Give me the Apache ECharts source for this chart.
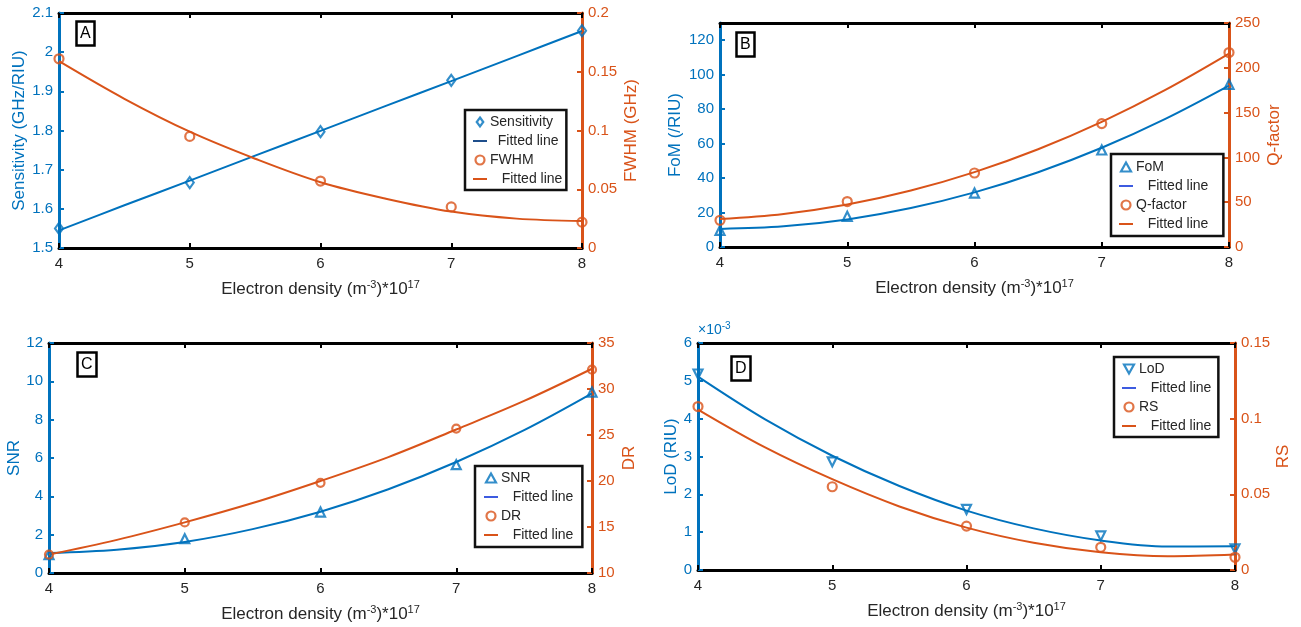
<!DOCTYPE html>
<html>
<head>
<meta charset="utf-8">
<title>Electron density sensing metrics</title>
<script src="https://cdn.jsdelivr.net/npm/echarts@6/dist/echarts.min.js"></script>
<style>
  html, body { margin: 0; padding: 0; background: #fff; }
  #chart { width: 1301px; height: 627px; }
</style>
</head>
<body>
<div id="chart"></div>
<script>
// ---- data ---------------------------------------------------------------
const density = [4, 5, 6, 7, 8];                       // electron density, x 10^17 m^-3
const fitDensity = [4, 4.5, 5, 5.5, 6, 6.5, 7, 7.5, 8]; // sample points along the fitted curves
const xTicks = [4, 5, 6, 7, 8];

// (A) sensitivity and FWHM
const sensitivity = [1.550, 1.667, 1.797, 1.928, 2.055];
const sensitivityFit = [1.545, 1.609, 1.672, 1.736, 1.799, 1.863, 1.926, 1.990, 2.054];
const fwhm = [0.161, 0.095, 0.057, 0.035, 0.022];
const fwhmFit = [0.159, 0.127, 0.099, 0.076, 0.056, 0.042, 0.031, 0.025, 0.023];

// (B) figure of merit and Q-factor
const fom = [9.7, 17.8, 31.3, 56.3, 94.4];
const fomFit = [10.5, 12.0, 16.0, 22.6, 31.7, 43.4, 57.6, 74.4, 93.7];
const qFactor = [29.8, 50.7, 82.6, 137.7, 217.0];
const qFactorFit = [31.3, 36.9, 47.4, 63.0, 83.6, 109.1, 139.7, 175.3, 215.8];

// (C) signal-to-noise ratio and dynamic range
const snr = [0.96, 1.79, 3.18, 5.65, 9.44];
const snrFit = [1.04, 1.21, 1.62, 2.29, 3.20, 4.37, 5.79, 7.45, 9.37];
const dr = [12.0, 15.5, 19.8, 25.7, 32.1];
const drFit = [12.0, 13.6, 15.5, 17.6, 20.0, 22.6, 25.6, 28.7, 32.2];

// (D) limit of detection and resolution
const lod = [5.18e-3, 2.86e-3, 1.60e-3, 0.90e-3, 0.56e-3];
const lodFit = [5.11e-3, 3.98e-3, 3.02e-3, 2.22e-3, 1.57e-3, 1.10e-3, 0.78e-3, 0.62e-3, 0.63e-3];
const rs = [0.108, 0.055, 0.029, 0.015, 0.0084];
const rsFit = [0.106, 0.081, 0.060, 0.042, 0.028, 0.018, 0.0117, 0.0091, 0.0102];

// ---- styling ------------------------------------------------------------
const BLUE = '#0072BD';
const ORANGE = '#D95319';
const INK = '#262626';
const FONT = '"Liberation Sans", Arial, Helvetica, sans-serif';

// legend glyphs (scaled into the legend item box, aspect kept)
const LEGEND_ICON = {
  line: 'path://M0,0h14v2H0z',
  triangle: 'path://M5,0L10,9H0z',
  triangleDown: 'path://M0,0H10L5,9z',
  diamond: 'path://M4,0L8,5.5L4,11L0,5.5z',
  circle: 'circle'
};

const pair = (xs, ys) => xs.map((x, i) => [x, ys[i]]);

const xName = '{a|Electron density (m}{s|-3}{a|)*10}{s|17}';
const xNameStyle = {
  color: INK, fontFamily: FONT,
  rich: {
    a: { fontSize: 17, color: INK, fontFamily: FONT },
    s: { fontSize: 11, color: INK, fontFamily: FONT, padding: [0, 0, 9, 0] }
  }
};

// legend entries use unique keys; the text shown comes from this table
const legendText = {
  sensA: 'Sensitivity', fitA1: '  Fitted line', fwhmA: 'FWHM', fitA2: '   Fitted line',
  fomB: 'FoM', fitB1: '   Fitted line', qB: 'Q-factor', fitB2: '   Fitted line',
  snrC: 'SNR', fitC1: '   Fitted line', drC: 'DR', fitC2: '   Fitted line',
  lodD: 'LoD', fitD1: '   Fitted line', rsD: 'RS', fitD2: '   Fitted line'
};

const panels = [
  {
    grid: { left: 59, top: 13, width: 523, height: 235 },
    letter: { text: 'A', left: 76, top: 21 },
    left: { min: 1.5, max: 2.1, interval: 0.1, name: 'Sensitivity (GHz/RIU)', gap: 30 },
    right: { min: 0, max: 0.2, interval: 0.05, name: 'FWHM (GHz)', gap: 41 },
    s1: { key: 'sensA', fit: 'fitA1', data: sensitivity, fitData: sensitivityFit, symbol: 'diamond', size: [8, 11], rotate: 0, icon: 'diamond' },
    s2: { key: 'fwhmA', fit: 'fitA2', data: fwhm, fitData: fwhmFit, symbol: 'circle', size: 9, rotate: 0, icon: 'circle' },
    legend: { left: 465, top: 110, padding: [4, 4, 3, 8] },
    fitLegendBlue: '#1F4E8C'
  },
  {
    grid: { left: 720, top: 23, width: 509, height: 224 },
    letter: { text: 'B', left: 736, top: 32 },
    left: { min: 0, max: 130, interval: 20, name: 'FoM (/RIU)', gap: 36, hideMax: true },
    right: { min: 0, max: 250, interval: 50, name: 'Q-factor', gap: 37 },
    s1: { key: 'fomB', fit: 'fitB1', data: fom, fitData: fomFit, symbol: 'triangle', size: 9, rotate: 0, icon: 'triangle' },
    s2: { key: 'qB', fit: 'fitB2', data: qFactor, fitData: qFactorFit, symbol: 'circle', size: 9, rotate: 0, icon: 'circle' },
    legend: { left: 1111, top: 154, padding: [5, 15, 4, 8] },
    fitLegendBlue: '#3D5BE0'
  },
  {
    grid: { left: 49, top: 343, width: 543, height: 230 },
    letter: { text: 'C', left: 77, top: 352 },
    left: { min: 0, max: 12, interval: 2, name: 'SNR', gap: 24 },
    right: { min: 10, max: 35, interval: 5, name: 'DR', gap: 29 },
    s1: { key: 'snrC', fit: 'fitC1', data: snr, fitData: snrFit, symbol: 'triangle', size: 9, rotate: 0, icon: 'triangle' },
    s2: { key: 'drC', fit: 'fitC2', data: dr, fitData: drFit, symbol: 'circle', size: 8, rotate: 0, icon: 'circle' },
    legend: { left: 475, top: 466, padding: [4, 9, 4, 9] },
    fitLegendBlue: '#3D5BE0'
  },
  {
    grid: { left: 698, top: 343, width: 537, height: 227 },
    letter: { text: 'D', left: 731, top: 356 },
    left: { min: 0, max: 0.006, interval: 0.001, name: 'LoD (RIU)', gap: 15, scale1000: true },
    right: { min: 0, max: 0.15, interval: 0.05, name: 'RS', gap: 40 },
    s1: { key: 'lodD', fit: 'fitD1', data: lod, fitData: lodFit, symbol: 'triangle', size: 9, rotate: 180, icon: 'triangleDown' },
    s2: { key: 'rsD', fit: 'fitD2', data: rs, fitData: rsFit, symbol: 'circle', size: 9, rotate: 0, icon: 'circle' },
    legend: { left: 1114, top: 357, padding: [4, 7, 3, 8] },
    fitLegendBlue: '#3D5BE0'
  }
];

const option = {
  animation: false,
  backgroundColor: '#fff',
  textStyle: { fontFamily: FONT },
  grid: [], xAxis: [], yAxis: [], series: [], legend: [], title: []
};

function yAxisFor(gi, cfg, side, color) {
  return {
    gridIndex: gi, type: 'value', position: side,
    min: cfg.min, max: cfg.max, interval: cfg.interval,
    axisLine: { show: true, onZero: false, lineStyle: { color: color, width: 3 } },
    axisTick: { show: true, inside: true, length: 5, lineStyle: { color: color, width: 2 } },
    axisLabel: {
      show: true, color: color, fontSize: 15, fontFamily: FONT, margin: 6,
      showMaxLabel: !cfg.hideMax,
      formatter: cfg.scale1000 ? (v => String(Math.round(v * 1000))) : null
    },
    splitLine: { show: false },
    name: cfg.name, nameLocation: 'middle', nameRotate: 90, nameGap: cfg.gap,
    nameTextStyle: { color: color, fontSize: 17, fontFamily: FONT }
  };
}

function markerLegendItem(name, icon, color) {
  return {
    name: name, icon: LEGEND_ICON[icon],
    itemStyle: { color: 'rgba(255,255,255,0)', borderColor: color, borderWidth: 2.2 }
  };
}

panels.forEach((p, i) => {
  option.grid.push(Object.assign({ containLabel: false, outerBoundsMode: 'none' }, p.grid));

  // bottom axis with labels and title, top axis closes the box
  option.xAxis.push({
    gridIndex: i, type: 'value', position: 'bottom', min: 4, max: 8, interval: 1,
    axisLine: { show: true, onZero: false, lineStyle: { color: '#000', width: 3 } },
    axisTick: { show: true, inside: true, length: 5, lineStyle: { color: '#000', width: 2 } },
    axisLabel: { show: true, color: INK, fontSize: 15, fontFamily: FONT, margin: 8,
                 customValues: xTicks },
    splitLine: { show: false },
    name: xName, nameLocation: 'middle', nameGap: 31, nameTextStyle: xNameStyle
  });
  option.xAxis.push({
    gridIndex: i, type: 'value', position: 'top', min: 4, max: 8, interval: 1,
    axisLine: { show: true, onZero: false, lineStyle: { color: '#000', width: 3 } },
    axisTick: { show: true, inside: true, length: 5, lineStyle: { color: '#000', width: 2 } },
    axisLabel: { show: false },
    splitLine: { show: false }
  });

  option.yAxis.push(yAxisFor(i, p.left, 'left', BLUE));
  option.yAxis.push(yAxisFor(i, p.right, 'right', ORANGE));

  const xi = 2 * i;
  [[p.s1, 2 * i, BLUE], [p.s2, 2 * i + 1, ORANGE]].forEach(([s, yi, color]) => {
    option.series.push({
      name: s.fit, type: 'line', xAxisIndex: xi, yAxisIndex: yi,
      data: pair(fitDensity, s.fitData),
      smooth: 0.35, symbol: 'none',
      lineStyle: { color: color, width: 2 }, itemStyle: { color: color },
      z: 3
    });
    option.series.push({
      name: s.key, type: 'scatter', xAxisIndex: xi, yAxisIndex: yi,
      data: pair(density, s.data),
      symbol: s.symbol, symbolSize: s.size, symbolRotate: s.rotate,
      itemStyle: { color: 'rgba(255,255,255,0)', borderColor: color, borderWidth: 2.2 },
      z: 4
    });
  });

  option.legend.push({
    orient: 'vertical', left: p.legend.left, top: p.legend.top,
    padding: p.legend.padding, itemGap: 3, itemWidth: 14, itemHeight: 9,
    symbolKeepAspect: true,
    backgroundColor: '#fff', borderColor: '#111', borderWidth: 2.5, borderRadius: 0,
    selectedMode: false,
    textStyle: { color: INK, fontSize: 14, fontFamily: FONT, lineHeight: 16, padding: [0, 0, 0, -2] },
    formatter: name => legendText[name],
    data: [
      markerLegendItem(p.s1.key, p.s1.icon, BLUE),
      { name: p.s1.fit, icon: LEGEND_ICON.line, itemStyle: { color: p.fitLegendBlue, borderWidth: 0 } },
      markerLegendItem(p.s2.key, p.s2.icon, ORANGE),
      { name: p.s2.fit, icon: LEGEND_ICON.line, itemStyle: { color: ORANGE, borderWidth: 0 } }
    ]
  });

  option.title.push({
    text: p.letter.text, left: p.letter.left, top: p.letter.top,
    padding: [4, 4, 3, 4], borderColor: '#000', borderWidth: 2.5, backgroundColor: '#fff',
    textStyle: { fontSize: 16, fontWeight: 'normal', color: '#000', fontFamily: FONT, lineHeight: 18 }
  });
});

// exponent marker above the LoD axis
option.title.push({
  text: '{a|×10}{s|-3}', left: 698, top: 321, padding: 0,
  textStyle: {
    fontFamily: FONT, fontWeight: 'normal',
    rich: {
      a: { fontSize: 14, color: BLUE, fontFamily: FONT, fontWeight: 'normal' },
      s: { fontSize: 10, color: BLUE, fontFamily: FONT, fontWeight: 'normal', padding: [0, 0, 8, 0] }
    }
  }
});

const chart = echarts.init(document.getElementById('chart'), null, { renderer: 'canvas' });
chart.setOption(option);
</script>
</body>
</html>
